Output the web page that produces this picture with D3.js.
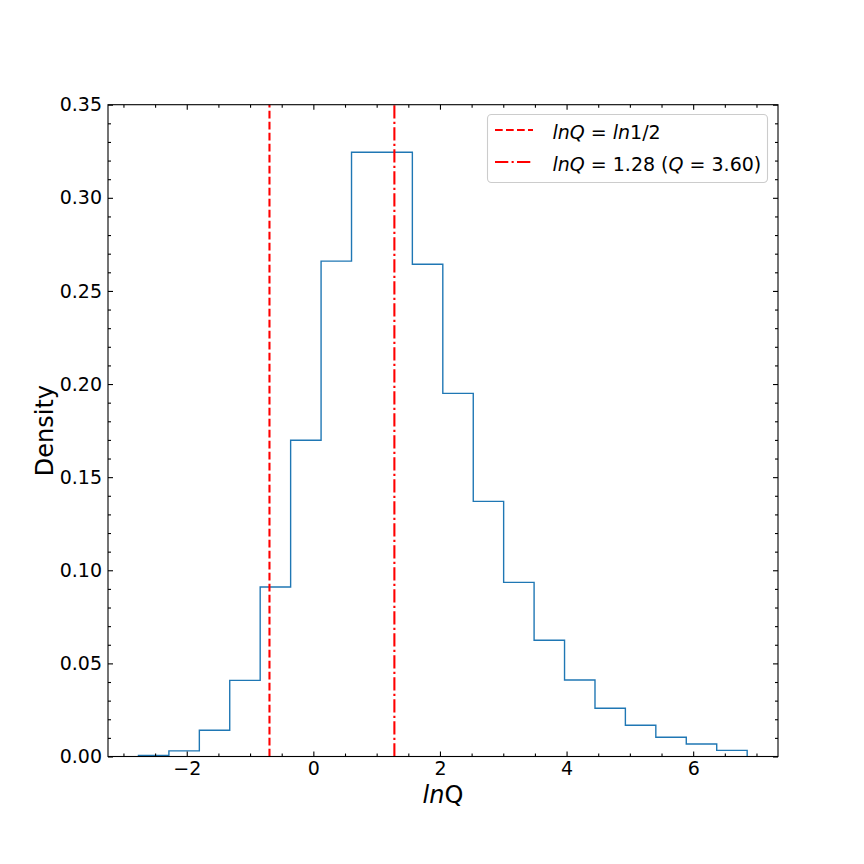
<!DOCTYPE html>
<html>
<head>
<meta charset="utf-8">
<script src="https://cdn.jsdelivr.net/npm/d3@7"></script>
<style>
  html, body { margin: 0; padding: 0; background: #fff; }
  svg { display: block; }
  text { font-family: "DejaVu Sans", sans-serif; fill: #000; }
</style>
</head>
<body>
<script>
// ---- data ----
const binEdges = [-2.763, -2.282, -1.801, -1.321, -0.840, -0.359, 0.122, 0.603, 1.083, 1.564,
                  2.045, 2.526, 3.006, 3.487, 3.968, 4.449, 4.929, 5.410, 5.891, 6.372, 6.853];
const densities = [0.0005, 0.0030, 0.0141, 0.0409, 0.0910, 0.1698, 0.2660, 0.3245, 0.3245, 0.2643,
                   0.1950, 0.1370, 0.0935, 0.0624, 0.0411, 0.0259, 0.0168, 0.0103, 0.0067, 0.0033];
const xTicks = [-2, 0, 2, 4, 6];
const yTicks = [0.00, 0.05, 0.10, 0.15, 0.20, 0.25, 0.30, 0.35];
const xDomain = [-3.244, 7.34];
const yDomain = [0, 0.35];
const lnHalf = Math.log(0.5);
const lnQbest = 1.28;

(function () {
// ---- layout ----
const W = 864, H = 864;
const pL = 108, pR = 778, pT = 104.7, pB = 756.5;

const svg = d3.select("body").append("svg").attr("width", W).attr("height", H);

const x = d3.scaleLinear().domain(xDomain).range([pL, pR]);
const y = d3.scaleLinear().domain(yDomain).range([pB, pT]);

// histogram (step outline)
const pts = [[binEdges[0], 0]];
densities.forEach((d, i) => { pts.push([binEdges[i], d]); pts.push([binEdges[i + 1], d]); });
pts.push([binEdges[binEdges.length - 1], 0]);
svg.append("path")
  .attr("d", d3.line().x(p => x(p[0])).y(p => y(p[1]))(pts))
  .attr("fill", "none").attr("stroke", "#1f77b4").attr("stroke-width", 1.39)
  .attr("stroke-linejoin", "miter");

// vertical reference lines
svg.append("line").attr("x1", x(lnHalf)).attr("x2", x(lnHalf)).attr("y1", pB).attr("y2", pT)
  .attr("stroke", "#ff0000").attr("stroke-width", 2.08).attr("stroke-dasharray", "7.7,3.3");
svg.append("line").attr("x1", x(lnQbest)).attr("x2", x(lnQbest)).attr("y1", pB).attr("y2", pT)
  .attr("stroke", "#ff0000").attr("stroke-width", 2.08).attr("stroke-dasharray", "13.3,3.3,2.1,3.3");

// axes with inward ticks on all sides
const fmtY = d3.format(".2f");
const fmtX = d => (d < 0 ? "\u2212" + Math.abs(d) : String(d));
const xMinor = d3.range(-3, 7.5, 0.5).filter(v => !xTicks.includes(v));
const yMinor = d3.range(0, 0.351, 0.01).map(v => +v.toFixed(2)).filter(v => !yTicks.some(t => Math.abs(t - v) < 1e-9));

function styleAxis(g) {
  g.select(".domain").remove();
  g.selectAll("line").attr("stroke", "#000").attr("stroke-width", 1.1);
}
// bottom
svg.append("g").attr("transform", `translate(0,${pB})`)
  .call(d3.axisBottom(x).tickValues(xTicks).tickFormat(fmtX).tickSizeInner(-5).tickSizeOuter(0).tickPadding(5))
  .call(styleAxis).call(g => g.selectAll("text").attr("font-size", 19).attr("font-family", "DejaVu Sans"));
svg.append("g").attr("transform", `translate(0,${pB})`)
  .call(d3.axisBottom(x).tickValues(xMinor).tickFormat("").tickSizeInner(-3).tickSizeOuter(0)).call(styleAxis);
// top
svg.append("g").attr("transform", `translate(0,${pT})`)
  .call(d3.axisTop(x).tickValues(xTicks).tickFormat("").tickSizeInner(-5).tickSizeOuter(0)).call(styleAxis);
svg.append("g").attr("transform", `translate(0,${pT})`)
  .call(d3.axisTop(x).tickValues(xMinor).tickFormat("").tickSizeInner(-3).tickSizeOuter(0)).call(styleAxis);
// left
svg.append("g").attr("transform", `translate(${pL},0)`)
  .call(d3.axisLeft(y).tickValues(yTicks).tickFormat(fmtY).tickSizeInner(-5).tickSizeOuter(0).tickPadding(6))
  .call(styleAxis).call(g => g.selectAll("text").attr("font-size", 19).attr("font-family", "DejaVu Sans"));
svg.append("g").attr("transform", `translate(${pL},0)`)
  .call(d3.axisLeft(y).tickValues(yMinor).tickFormat("").tickSizeInner(-3).tickSizeOuter(0)).call(styleAxis);
// right
svg.append("g").attr("transform", `translate(${pR},0)`)
  .call(d3.axisRight(y).tickValues(yTicks).tickFormat("").tickSizeInner(-5).tickSizeOuter(0)).call(styleAxis);
svg.append("g").attr("transform", `translate(${pR},0)`)
  .call(d3.axisRight(y).tickValues(yMinor).tickFormat("").tickSizeInner(-3).tickSizeOuter(0)).call(styleAxis);

// spines
svg.append("rect").attr("x", pL).attr("y", pT).attr("width", pR - pL).attr("height", pB - pT)
  .attr("fill", "none").attr("stroke", "#000").attr("stroke-width", 1.1);

// axis labels
const xl = svg.append("text").attr("x", (pL + pR) / 2).attr("y", 803)
  .attr("text-anchor", "middle").attr("font-size", 24);
xl.append("tspan").attr("font-style", "italic").text("ln");
xl.append("tspan").text("Q");

svg.append("text").attr("transform", `translate(53,${(pT + pB) / 2}) rotate(-90)`)
  .attr("text-anchor", "middle").attr("font-size", 24).text("Density");

// legend
const lg = svg.append("g");
lg.append("rect").attr("x", 487.5).attr("y", 114.5).attr("width", 280).attr("height", 68)
  .attr("rx", 4).attr("fill", "#fff").attr("fill-opacity", 0.8)
  .attr("stroke", "#cccccc").attr("stroke-width", 1.1);
const legendItems = [
  { dash: "7.7,3.3", y: 130, parts: [["lnQ", true], [" = ", false], ["ln", true], ["1/2", false]] },
  { dash: "13.3,3.3,2.1,3.3", y: 162, parts: [["lnQ", true], [" = 1.28 (", false], ["Q", true], [" = 3.60)", false]] }
];
legendItems.forEach(it => {
  lg.append("line").attr("x1", 495).attr("x2", 533).attr("y1", it.y).attr("y2", it.y)
    .attr("stroke", "#ff0000").attr("stroke-width", 2.08).attr("stroke-dasharray", it.dash);
  const t = lg.append("text").attr("x", 552.5).attr("y", it.y + 8.5).attr("font-size", 19)
    .style("white-space", "pre");
  it.parts.forEach(([s, ital]) => t.append("tspan").attr("font-style", ital ? "italic" : "normal").text(s));
});
})();
</script>
</body>
</html>
